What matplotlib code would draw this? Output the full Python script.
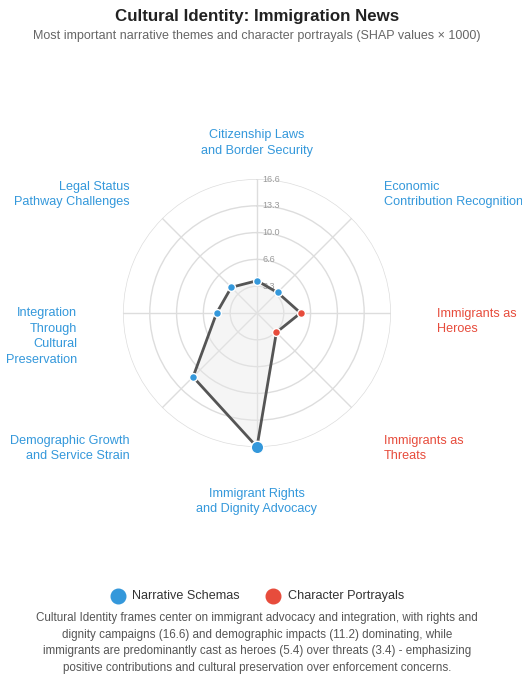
import numpy as np
import matplotlib.pyplot as plt
from matplotlib.transforms import offset_copy

plt.rcParams['font.family'] = ['Liberation Sans', 'DejaVu Sans']

# data
categories = ["Citizenship Laws\nand Border Security",
              "Economic\nContribution Recognition",
              "Immigrants as\nHeroes",
              "Immigrants as\nThreats",
              "Immigrant Rights\nand Dignity Advocacy",
              "Demographic Growth\nand Service Strain",
              "Integration\nThrough\nCultural\nPreservation",
              "Legal Status\nPathway Challenges"]
values = [4.0, 3.6, 5.4, 3.4, 16.6, 11.2, 5.0, 4.5]
kinds = ["schema", "schema", "character", "character",
         "schema", "schema", "schema", "schema"]
kind_colors = {"schema": "#3498db", "character": "#e74c3c"}

title = "Cultural Identity: Immigration News"
subtitle = "Most important narrative themes and character portrayals (SHAP values \u00d7 1000)"
caption = ("Cultural Identity frames center on immigrant advocacy and integration, with rights and\n"
           "dignity campaigns (16.6) and demographic impacts (11.2) dominating, while\n"
           "immigrants are predominantly cast as heroes (5.4) over threats (3.4) - emphasizing\n"
           "positive contributions and cultural preservation over enforcement concerns.")

W, H = 522, 678

def px(x, y):
    return x / W, 1 - y / H

n = len(categories)
angles = np.arange(n) * 2 * np.pi / n
vmax = max(values)
rticks = [vmax * f for f in (0.2, 0.4, 0.6, 0.8, 1.0)]

fig = plt.figure(figsize=(5.22, 6.78), dpi=100)
ax = fig.add_axes([0.2356, 0.3407, 0.5134, 0.3953], projection='polar')
ax.set_theta_zero_location('N')
ax.set_theta_direction(-1)
ax.set_ylim(0, vmax)
ax.set_xticks(angles)
ax.set_xticklabels([])
ax.set_yticks(rticks)
ax.set_yticklabels([])
ax.spines['polar'].set_visible(False)
ax.grid(True, color='#dddddd', linewidth=1)
ax.set_facecolor('none')

# radial tick labels
tr = offset_copy(ax.transData, fig=fig, x=4, y=0, units='points')
for v in rticks:
    ax.text(0, v, f"{v:.1f}", transform=tr, ha='left', va='center',
            fontsize=6.5, color='#999999')

# shape
a_closed = np.append(angles, angles[0])
v_closed = np.append(values, values[0])
ax.fill(a_closed, v_closed, color='#e8e8e8', alpha=0.4, zorder=2)
ax.plot(a_closed, v_closed, color='#555555', linewidth=2, zorder=3, clip_on=False)
for a, v, k in zip(angles, values, kinds):
    size = 80 if v == vmax else 32
    ax.scatter(a, v, s=size, color=kind_colors[k], edgecolor='white',
               linewidth=1, zorder=4, clip_on=False)

# category labels (pixel anchors: x, y, ha)
label_pos = [(257, 143, 'center'), (384, 194.5, 'left'), (437, 321.5, 'left'),
             (384, 448.5, 'left'), (257, 501.5, 'center'), (130, 448.5, 'right'),
             (77, 336.5, 'right'), (130, 194.5, 'right')]
for lab, k, (x, y, ha) in zip(categories, kinds, label_pos):
    fx, fy = px(x, y)
    fig.text(fx, fy, lab, ha=ha, va='center', multialignment=ha,
             fontsize=9.1, color=kind_colors[k], linespacing=1.38)

fig.text(*px(257, 16), title, ha='center', va='center', fontsize=12.2,
         fontweight='bold', color='#222222')
fig.text(*px(257, 36), subtitle, ha='center', va='center', fontsize=9.0,
         color='#666666')

# legend
leg_y = 596
fig.add_artist(plt.Line2D([118 / W], [1 - leg_y / H], marker='o', markersize=10.5,
                          color='#3498db', linestyle='none', transform=fig.transFigure))
fig.text(*px(132, leg_y), "Narrative Schemas", ha='left', va='center',
         fontsize=9.1, color='#333333')
fig.add_artist(plt.Line2D([273 / W], [1 - leg_y / H], marker='o', markersize=10.5,
                          color='#e74c3c', linestyle='none', transform=fig.transFigure))
fig.text(*px(288, leg_y), "Character Portrayals", ha='left', va='center',
         fontsize=9.1, color='#333333')

fig.text(*px(257, 643), caption, ha='center', va='center', fontsize=8.35,
         color='#555555', linespacing=1.53)

fig.savefig('out.png', dpi=100)
